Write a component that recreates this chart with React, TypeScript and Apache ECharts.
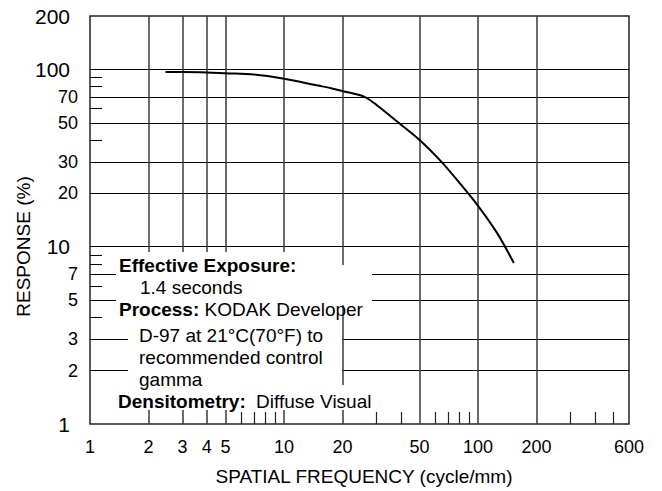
import React, { useEffect, useRef } from 'react';
import * as echarts from 'echarts';

// Curve: spatial frequency (cycle/mm) vs response (%)
const freq = [2.45, 3, 4, 5, 7, 10, 15, 17.5, 20, 26, 30, 39, 50, 65, 80, 100, 125, 153];
const response = [96.5, 96.5, 96, 95, 93.5, 88.5, 81, 78.3, 75.5, 70, 63, 50, 40, 30, 23, 17, 12, 8.1];

// Axis ticks
const xGridValues = [2, 3, 4, 5, 10, 20, 50, 100, 200];
const xMinorValues = [6, 7, 8, 9, 30, 40, 60, 70, 80, 90, 300, 400, 500];
const xLabelValues = [1, 2, 3, 4, 5, 10, 20, 50, 100, 200, 600];
const yGridValues = [2, 3, 5, 7, 10, 20, 30, 50, 70, 100];
const yMinorValues = [4, 6, 8, 9, 40, 60, 80, 90];
const yLabelValues = [1, 2, 3, 5, 7, 10, 20, 30, 50, 70, 100, 200];
const yBigLabels = [1, 10, 100, 200];

const FONT = '"Liberation Sans", Arial, Helvetica, sans-serif';

export default function App() {
  const ref = useRef<HTMLDivElement>(null);
  useEffect(() => {
    if (!ref.current) return;
    const chart = echarts.init(ref.current, null, { renderer: 'svg' });
    const data = freq.map((f, i) => [f, response[i]]);
    const textBase = { fontFamily: FONT, fontSize: 19, fill: '#000', verticalAlign: 'middle', align: 'left' };
    const white = { fill: '#fff', lineWidth: 0 };
    chart.setOption({
      animation: false,
      backgroundColor: '#fff',
      grid: {
        left: 90, right: 33, top: 16, bottom: 67,
        show: true, borderColor: '#222', borderWidth: 1.5,
        containLabel: false, outerBoundsMode: 'none',
      },
      xAxis: [
        {
          type: 'log', logBase: 10, min: 1, max: 600, position: 'bottom',
          axisLine: { show: false },
          axisTick: { show: false, customValues: xGridValues },
          splitLine: { show: true, lineStyle: { color: '#3a3a3a', width: 1.5 } },
          axisLabel: {
            customValues: xLabelValues, margin: 14, fontSize: 18, fontFamily: FONT, color: '#000',
            formatter: (v: number) => String(Math.round(v)),
          },
          name: 'SPATIAL FREQUENCY (cycle/mm)', nameLocation: 'middle', nameGap: 43,
          nameTextStyle: { fontSize: 19, fontFamily: FONT, color: '#000', padding: [0, 0, 0, 9] },
        },
        {
          type: 'log', logBase: 10, min: 1, max: 600, position: 'bottom',
          axisLine: { show: false },
          axisTick: { show: true, inside: true, length: 12, customValues: xMinorValues, lineStyle: { color: '#222', width: 1.2 } },
          splitLine: { show: false },
          axisLabel: { show: false },
        },
      ],
      yAxis: [
        {
          type: 'log', logBase: 10, min: 1, max: 200, position: 'left',
          axisLine: { show: false },
          axisTick: { show: false, customValues: yGridValues },
          splitLine: { show: true, lineStyle: { color: '#000', width: 1 } },
          axisLabel: {
            customValues: yLabelValues, margin: 12, color: '#000',
            formatter: (v: number) => {
              const r = Math.round(v);
              return yBigLabels.indexOf(r) >= 0 ? `{d|${r}}` : `{s|${r}}`;
            },
            rich: {
              d: { fontSize: 21, fontFamily: FONT, color: '#000', padding: [0, 8, 0, 0] },
              s: { fontSize: 18, fontFamily: FONT, color: '#000' },
            },
          },
        },
        {
          type: 'log', logBase: 10, min: 1, max: 200, position: 'left',
          axisLine: { show: false },
          axisTick: { show: true, inside: true, length: 12, customValues: yMinorValues, lineStyle: { color: '#000', width: 1 } },
          splitLine: { show: false },
          axisLabel: { show: false },
        },
      ],
      series: [
        {
          type: 'line', xAxisIndex: 0, yAxisIndex: 0, data,
          showSymbol: false, smooth: 0.3,
          lineStyle: { color: '#000', width: 2 },
          z: 5,
        },
      ],
      graphic: [
        { type: 'rect', z: 100, shape: { x: 116, y: 252, width: 220, height: 53 }, style: white, silent: true },
        { type: 'rect', z: 100, shape: { x: 336, y: 265, width: 36, height: 40 }, style: white, silent: true },
        { type: 'rect', z: 100, shape: { x: 128, y: 305, width: 214, height: 80 }, style: white, silent: true },
        { type: 'rect', z: 100, shape: { x: 116, y: 385, width: 258, height: 25 }, style: white, silent: true },
        { type: 'text', z: 101, x: 119, y: 265, style: { ...textBase, text: 'Effective Exposure:', fontWeight: 'bold' } },
        { type: 'text', z: 101, x: 140, y: 287, style: { ...textBase, text: '1.4 seconds' } },
        {
          type: 'text', z: 101, x: 119, y: 309.5,
          style: { ...textBase, text: '{b|Process:} KODAK Developer', rich: { b: { fontWeight: 'bold', fontFamily: FONT, fontSize: 19 } } },
        },
        { type: 'text', z: 101, x: 139, y: 335.5, style: { ...textBase, text: 'D-97 at 21°C(70°F) to' } },
        { type: 'text', z: 101, x: 139, y: 357, style: { ...textBase, text: 'recommended control' } },
        { type: 'text', z: 101, x: 139, y: 379, style: { ...textBase, text: 'gamma' } },
        { type: 'text', z: 101, x: 118, y: 401.5, style: { ...textBase, text: 'Densitometry:', fontWeight: 'bold' } },
        { type: 'text', z: 101, x: 256, y: 401.5, style: { ...textBase, text: 'Diffuse Visual' } },
        {
          type: 'text', z: 101, x: 23.5, y: 246.5, rotation: Math.PI / 2,
          style: { ...textBase, text: 'RESPONSE (%)', align: 'center' },
        },
      ],
    });
    return () => chart.dispose();
  }, []);
  return <div ref={ref} style={{ position: 'fixed', left: 0, top: 0, width: 662, height: 491 }} />;
}
